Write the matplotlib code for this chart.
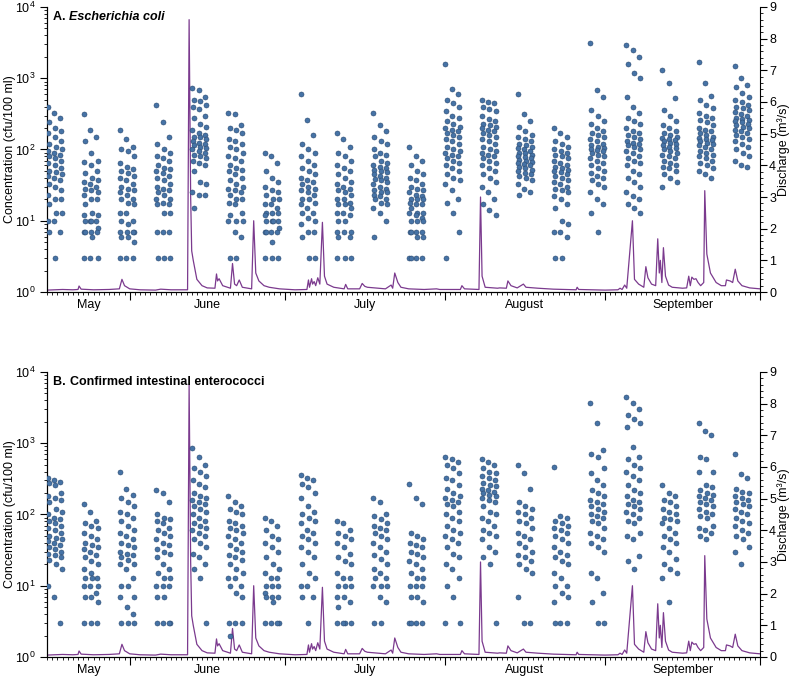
import numpy as np
import matplotlib
matplotlib.use('Agg')
import matplotlib.pyplot as plt
import matplotlib.dates as mdates
import matplotlib.transforms as mtransforms
from matplotlib.ticker import MultipleLocator, LogLocator, NullFormatter
from datetime import date

plt.rcParams['font.family'] = ['Liberation Sans', 'DejaVu Sans']
plt.rcParams['font.size'] = 9

# sampling weeks (first day of each 3-day sampling round)
sample_dates = ['2019-05-16', '2019-05-23', '2019-05-30', '2019-06-06', '2019-06-13',
                '2019-06-20', '2019-06-27', '2019-07-04', '2019-07-11', '2019-07-18',
                '2019-07-25', '2019-08-01', '2019-08-08', '2019-08-15', '2019-08-22',
                '2019-08-29', '2019-09-05', '2019-09-12', '2019-09-19', '2019-09-26']

# E. coli, cfu/100 ml, one list per sampling round
ecoli = [
    [400, 330, 280, 240, 200, 180, 170, 150, 130, 120, 110, 100, 95, 90, 85, 80, 75, 70, 65, 60, 55, 50, 48, 45, 42, 40, 37, 33, 30, 27, 23, 20, 20, 17, 13, 13, 10, 10, 7, 7, 3],
    [320, 190, 150, 130, 90, 70, 67, 60, 50, 47, 40, 37, 35, 33, 30, 28, 27, 25, 23, 20, 20, 17, 13, 12, 12, 10, 10, 10, 10, 8, 7, 7, 7, 7, 6, 3, 3, 3],
    [185, 140, 110, 100, 95, 80, 65, 57, 53, 50, 47, 43, 40, 37, 33, 30, 28, 27, 25, 23, 20, 20, 18, 17, 13, 13, 10, 10, 9, 7, 7, 7, 7, 6, 6, 5, 3, 3, 3],
    [420, 240, 150, 120, 100, 90, 80, 75, 70, 60, 55, 53, 50, 47, 43, 40, 37, 33, 30, 28, 27, 25, 23, 20, 20, 18, 17, 17, 13, 13, 7, 7, 7, 3, 3, 3],
    [730, 680, 550, 500, 480, 420, 400, 370, 300, 280, 230, 210, 190, 170, 160, 150, 150, 140, 130, 125, 120, 115, 110, 105, 100, 95, 90, 85, 80, 75, 70, 65, 60, 50, 35, 33, 25, 23, 23, 15],
    [330, 310, 220, 200, 190, 170, 140, 130, 120, 110, 100, 90, 80, 75, 70, 60, 55, 52, 50, 45, 40, 37, 33, 30, 28, 27, 25, 23, 20, 20, 18, 17, 13, 12, 10, 10, 10, 7, 6, 3, 3],
    [90, 80, 65, 50, 40, 35, 30, 27, 25, 23, 20, 20, 17, 17, 15, 13, 13, 13, 12, 10, 10, 10, 10, 8, 7, 7, 7, 7, 5, 3, 3, 3],
    [600, 260, 160, 120, 100, 90, 80, 70, 60, 55, 50, 45, 40, 37, 35, 33, 30, 28, 27, 25, 23, 20, 20, 18, 17, 15, 13, 13, 11, 10, 9, 7, 7, 6, 3, 3],
    [170, 140, 110, 90, 80, 70, 60, 55, 50, 45, 40, 35, 33, 30, 28, 27, 25, 23, 20, 20, 18, 17, 17, 15, 13, 13, 12, 10, 10, 7, 7, 7, 6, 6, 3, 3, 3],
    [330, 220, 180, 150, 130, 120, 100, 90, 85, 80, 70, 65, 60, 57, 55, 52, 50, 48, 45, 43, 40, 38, 37, 35, 33, 30, 28, 27, 25, 25, 23, 22, 20, 20, 18, 17, 15, 13, 10, 6],
    [110, 80, 70, 60, 50, 45, 40, 37, 33, 30, 28, 27, 25, 23, 22, 20, 20, 20, 18, 17, 17, 15, 13, 13, 13, 12, 11, 10, 10, 10, 7, 7, 7, 7, 6, 6, 3, 3, 3, 3],
    [1600, 700, 600, 500, 450, 400, 350, 300, 280, 250, 230, 210, 200, 190, 180, 170, 160, 150, 140, 130, 120, 110, 100, 95, 90, 85, 80, 75, 70, 65, 60, 55, 50, 45, 40, 37, 33, 27, 20, 18, 13, 7, 3],
    [500, 470, 450, 400, 370, 350, 300, 270, 250, 230, 220, 210, 200, 190, 180, 170, 160, 150, 140, 130, 120, 110, 100, 95, 90, 85, 80, 75, 70, 65, 60, 55, 50, 45, 40, 35, 30, 25, 20, 17, 14, 12],
    [600, 320, 250, 210, 180, 160, 150, 140, 130, 120, 115, 110, 105, 100, 95, 90, 88, 85, 80, 78, 75, 72, 70, 67, 65, 62, 60, 57, 55, 52, 50, 47, 45, 43, 40, 37, 33, 28, 25, 23],
    [200, 170, 150, 130, 120, 110, 100, 95, 90, 85, 80, 75, 70, 65, 60, 57, 55, 52, 50, 48, 45, 42, 40, 37, 35, 33, 30, 28, 27, 25, 22, 20, 17, 15, 10, 9, 7, 7, 6, 3, 3],
    [3100, 690, 550, 360, 300, 250, 230, 200, 180, 170, 160, 150, 140, 130, 120, 115, 110, 105, 100, 97, 95, 90, 85, 80, 75, 70, 65, 60, 55, 50, 47, 43, 40, 37, 33, 30, 25, 20, 17, 13, 7],
    [2900, 2500, 2000, 1600, 1200, 1000, 550, 400, 330, 280, 250, 230, 200, 180, 170, 160, 150, 140, 130, 125, 120, 115, 110, 100, 95, 90, 80, 75, 70, 65, 60, 50, 45, 40, 35, 30, 25, 22, 20, 17, 15, 13],
    [1300, 850, 530, 360, 300, 250, 220, 200, 180, 170, 160, 150, 145, 140, 135, 130, 125, 120, 115, 110, 105, 100, 95, 90, 85, 80, 75, 70, 65, 60, 57, 55, 50, 45, 40, 35, 30],
    [1700, 850, 560, 500, 420, 380, 330, 300, 280, 260, 240, 220, 200, 190, 180, 170, 160, 150, 145, 140, 135, 130, 125, 120, 115, 110, 100, 95, 90, 85, 80, 75, 70, 65, 60, 55, 50, 45, 40],
    [1500, 1000, 800, 750, 620, 550, 500, 470, 420, 400, 380, 360, 340, 320, 300, 280, 270, 260, 250, 240, 230, 220, 210, 200, 190, 180, 170, 160, 150, 140, 130, 120, 110, 100, 90, 80, 70, 60, 57],
]

# confirmed intestinal enterococci, cfu/100 ml
entero = [
    [320, 300, 290, 280, 260, 200, 180, 170, 160, 150, 120, 110, 100, 90, 85, 80, 75, 70, 65, 60, 55, 50, 47, 45, 42, 40, 37, 35, 33, 30, 28, 27, 25, 23, 20, 17, 10, 7, 3],
    [140, 110, 80, 75, 70, 65, 55, 50, 45, 40, 37, 35, 33, 30, 27, 25, 22, 20, 17, 15, 13, 13, 13, 10, 10, 10, 8, 7, 7, 6, 3, 3, 3],
    [400, 230, 190, 170, 150, 130, 110, 100, 90, 80, 70, 60, 55, 50, 45, 40, 37, 35, 30, 28, 27, 25, 23, 20, 20, 17, 13, 10, 10, 7, 7, 5, 4, 3, 3, 3],
    [220, 200, 150, 100, 90, 85, 80, 75, 65, 60, 55, 50, 45, 40, 37, 33, 30, 28, 25, 20, 17, 15, 13, 13, 10, 10, 10, 7, 7, 3, 3, 3, 3],
    [850, 650, 500, 450, 400, 350, 300, 270, 240, 200, 180, 170, 160, 150, 140, 130, 120, 110, 100, 90, 80, 75, 70, 65, 60, 55, 50, 45, 40, 35, 28, 25, 20, 17, 13, 3],
    [180, 150, 130, 120, 110, 100, 80, 75, 70, 65, 60, 55, 50, 45, 40, 37, 33, 30, 27, 25, 23, 20, 17, 15, 13, 13, 10, 10, 8, 7, 3, 3, 3, 2],
    [90, 80, 70, 60, 50, 45, 40, 35, 30, 25, 20, 17, 15, 13, 13, 10, 10, 10, 8, 7, 7, 7, 6, 3, 3, 3, 3],
    [360, 330, 300, 270, 240, 200, 170, 130, 110, 100, 90, 80, 75, 60, 55, 50, 45, 40, 35, 30, 25, 20, 15, 13, 10, 10, 7, 7, 3],
    [80, 75, 60, 55, 50, 45, 40, 35, 28, 25, 22, 20, 15, 13, 13, 10, 10, 10, 7, 7, 6, 5, 3, 3, 3, 3],
    [170, 150, 100, 95, 85, 75, 70, 65, 60, 55, 50, 45, 40, 35, 30, 27, 24, 20, 17, 15, 13, 13, 10, 10, 10, 7, 6, 3, 3],
    [270, 170, 140, 55, 50, 45, 40, 37, 35, 30, 28, 25, 22, 20, 17, 15, 13, 13, 10, 10, 10, 7, 7, 6, 3, 3, 3, 3],
    [650, 600, 550, 500, 450, 380, 330, 300, 260, 230, 200, 180, 170, 160, 150, 140, 130, 110, 100, 90, 80, 70, 60, 55, 50, 45, 40, 35, 28, 25, 20, 17, 13, 10, 7, 3, 3],
    [600, 550, 500, 450, 400, 380, 350, 330, 300, 280, 260, 250, 230, 220, 210, 200, 190, 180, 170, 160, 150, 130, 110, 100, 90, 80, 70, 60, 55, 50, 45, 35, 30, 25, 20, 3],
    [500, 380, 230, 150, 130, 120, 110, 100, 90, 80, 75, 65, 55, 50, 45, 40, 35, 30, 27, 25, 22, 20, 17, 15, 7, 3, 3],
    [470, 95, 90, 80, 75, 70, 65, 60, 55, 50, 45, 40, 35, 30, 27, 25, 22, 20, 15, 13, 10, 10, 8, 7, 6, 3, 3, 3],
    [3700, 1900, 800, 700, 650, 450, 380, 300, 260, 220, 200, 180, 160, 150, 140, 130, 120, 110, 100, 95, 90, 80, 75, 65, 55, 50, 45, 40, 35, 30, 15, 13, 8, 6, 3, 3],
    [4400, 3700, 3000, 2500, 2200, 1900, 1700, 890, 650, 600, 500, 450, 400, 350, 300, 260, 220, 200, 180, 160, 150, 140, 130, 120, 110, 100, 90, 80, 75, 55, 50, 45, 26, 22, 17],
    [260, 200, 180, 160, 150, 130, 120, 110, 100, 90, 85, 80, 75, 65, 55, 50, 45, 40, 35, 30, 24, 20, 17, 15, 13, 6],
    [1900, 1500, 1300, 650, 600, 400, 400, 260, 240, 220, 200, 190, 180, 170, 160, 150, 140, 130, 120, 110, 100, 95, 90, 70, 65, 60, 55, 50, 45],
    [700, 370, 320, 230, 210, 200, 180, 170, 160, 150, 140, 130, 120, 110, 100, 90, 80, 75, 70, 60, 55, 50, 45, 35, 30, 20],
]

# discharge, m3/s; time in days after 16 May
q_day = [0, 3, 5, 6.0, 6.2, 6.6, 9, 12, 14.0, 14.5, 15.0, 16, 18, 21, 22, 24, 27.2, 27.5, 27.8, 28.0,
         28.3, 29, 30, 31, 32.5, 32.8, 33.0, 33.3, 34, 35.5, 35.9, 36.3, 36.7, 37.2, 37.8, 39.6, 40.0,
         40.4, 41, 42, 43, 45, 48, 50.3, 50.6, 50.8, 51.2, 51.4, 51.7, 52.0, 52.4, 52.8, 53.3, 53.7,
         54.2, 55.5, 57.5, 57.8, 58.2, 60.5, 61.0, 61.5, 62, 64, 65.5, 66.6, 66.9, 67.3, 67.9, 68.5,
         70, 73, 75.4, 76, 80.0, 80.3, 80.8, 83.6, 83.9, 84.2, 84.8, 87.2, 87.6, 88.9, 89.2, 89.8, 91,
         92.2, 92.7, 95, 98, 102.4, 102.6, 102.9, 108, 110.5, 110.9, 111.3, 111.8, 112.2, 113.3, 113.7,
         114.5, 115.5, 115.9, 116.3, 117.0, 117.8, 118.2, 118.5, 118.7, 119.0, 119.3, 119.7, 120.3, 121,
         123, 123.8, 124.2, 124.5, 124.8, 125.2, 125.6, 126.0, 126.5, 127.1, 127.3, 127.7, 128.4, 129.5,
         130.5, 131.3, 131.5, 132.2, 132.7, 133.2, 133.7, 134.5, 136, 138]
q_val = [0.06, 0.08, 0.07, 0.08, 0.19, 0.09, 0.07, 0.08, 0.1, 0.4, 0.2, 0.1, 0.07, 0.06, 0.09, 0.07, 0.07, 8.6, 3.0, 1.3,
         1.0, 0.4, 0.2, 0.13, 0.12, 0.57, 0.35, 0.42, 0.2, 0.12, 0.9, 0.25, 0.2, 0.38, 0.15, 0.1, 2.25,
         0.6, 0.35, 0.2, 0.15, 0.1, 0.07, 0.08, 0.38, 0.15, 0.42, 0.25, 0.33, 0.2, 0.45, 0.25, 2.2, 0.5,
         0.25, 0.15, 0.1, 0.24, 0.1, 0.1, 0.27, 0.18, 0.15, 0.12, 0.1, 0.22, 0.12, 0.6, 0.3, 0.15,
         0.1, 0.08, 0.1, 0.08, 0.08, 0.2, 0.1, 0.08, 3.0, 0.5, 0.15, 0.12, 0.13, 0.12, 0.35, 0.2, 0.13,
         0.25, 0.15, 0.12, 0.09, 0.07, 0.15, 0.08, 0.06, 0.07, 0.12, 0.08, 0.22, 0.12, 2.25, 0.4,
         0.25, 0.15, 0.8, 0.45, 0.25, 0.2, 1.68, 0.6, 1.0, 0.3, 1.4, 0.5, 0.22, 0.15,
         0.12, 0.13, 0.5, 0.2, 0.47, 0.4, 0.42, 0.3, 0.2, 0.3, 3.2, 1.2, 0.6, 0.3,
         0.2, 0.2, 0.38, 0.35, 0.3, 0.72, 0.35, 0.2, 0.13, 0.1]

month_names = ['May', 'June', 'July', 'August', 'September']

x0 = mdates.date2num(date(2019, 5, 16))
x1 = mdates.date2num(date(2019, 10, 1))
month_starts = [mdates.date2num(date(2019, m, 1)) for m in range(6, 11)]
month_bounds = [x0] + month_starts
q_x = x0 + np.array(q_day)
col_off = np.array([0.25, 1.5, 2.7])
jit = np.array([-0.15, 0.1, -0.05, 0.15])

fig = plt.figure(figsize=(7.89, 6.78), dpi=100)


def panel(rect, data, label, name, italic):
    ax = fig.add_axes(rect)
    ax2 = ax.twinx()
    ax.set_zorder(ax2.get_zorder() + 1)
    ax.patch.set_visible(False)

    ax2.plot(q_x, q_val, color='#7b3a8e', lw=0.9)
    ax2.set_ylim(0, 9)
    ax2.yaxis.set_major_locator(MultipleLocator(1))
    ax2.yaxis.set_minor_locator(MultipleLocator(0.2))
    ax2.set_ylabel('Discharge (m³/s)')
    ax2.yaxis.set_label_coords(1.024, 0.5)

    for d, vals in zip(sample_dates, data):
        vals = np.asarray(vals, float)
        i = np.arange(len(vals))
        xs = mdates.datestr2num(d) + col_off[i % 3] + jit[(i // 3) % 4]
        ax.scatter(xs, vals, s=13, facecolor='#4673a6', edgecolor='#2b4a70',
                   linewidth=0.4, zorder=3)

    ax.set_yscale('log')
    ax.set_ylim(1, 1e4)
    ax.yaxis.set_major_locator(LogLocator(base=10, numticks=10))
    ax.yaxis.set_minor_locator(LogLocator(base=10, subs=np.arange(2, 10), numticks=10))
    ax.yaxis.set_minor_formatter(NullFormatter())
    ax.set_ylabel('Concentration (cfu/100 ml)')
    ax.yaxis.set_label_coords(-0.043, 0.5)

    for a in (ax, ax2):
        a.set_xlim(x0, x1)
        a.spines['top'].set_visible(False)
        a.tick_params(which='major', length=5, width=0.8)
        a.tick_params(which='minor', length=2.5, width=0.6)
    ax2.tick_params(axis='y', which='major', pad=1.5)
    ax.spines['right'].set_visible(False)
    ax.xaxis.set_major_locator(mdates.MonthLocator())
    ax.xaxis.set_major_formatter(NullFormatter())
    ax.xaxis.set_minor_locator(mdates.DayLocator())
    ax.tick_params(axis='x', which='major', length=6)

    trans = mtransforms.blended_transform_factory(ax.transData, ax.transAxes)
    for name_m, a, b in zip(month_names, month_bounds[:-1], month_bounds[1:]):
        ax.text((a + b) / 2, -0.025, name_m, transform=trans, ha='center', va='top')

    t = ax.text(0.009, 0.985, label, transform=ax.transAxes, ha='left', va='top',
                fontweight='bold')
    ax.annotate(name, xy=(1, 0), xycoords=t, ha='left', va='bottom',
                fontweight='bold', fontstyle='italic' if italic else 'normal')
    return ax


panel([0.0596, 0.5693, 0.9037, 0.4204], ecoli, 'A. ', 'Escherichia coli', True)
panel([0.0596, 0.031, 0.9037, 0.4204], entero, 'B. ', 'Confirmed intestinal enterococci', False)

fig.savefig('out.png', dpi=100)
